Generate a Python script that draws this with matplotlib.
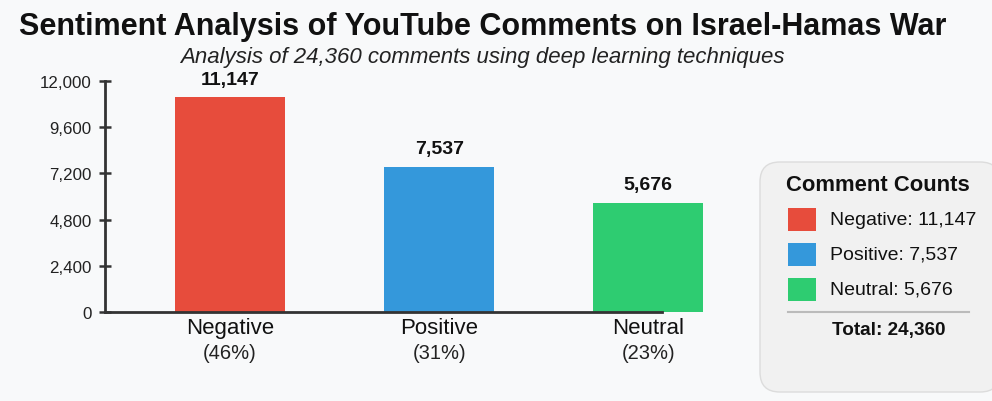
import matplotlib.pyplot as plt
import matplotlib.patches as patches

# --- data ---
categories = ["Negative", "Positive", "Neutral"]
counts = [11147, 7537, 5676]
percents = ["46%", "31%", "23%"]
colors = ["#e74c3c", "#3498db", "#2ecc71"]
yticks = [0, 2400, 4800, 7200, 9600, 12000]
total = 24360

plt.rcParams["font.family"] = ["Liberation Sans", "DejaVu Sans"]

fig = plt.figure(figsize=(9.92, 4.02), dpi=100)
fig.patch.set_facecolor("#f8f9fa")

W, H = 992, 402
ax = fig.add_axes([105 / W, 89 / H, (711 - 105) / W, (313 - 82) / H])
ax.set_facecolor("none")

xs = list(range(len(categories)))
ax.bar(xs, counts, width=0.526, color=colors, zorder=1)

for x, c in zip(xs, counts):
    ax.annotate(f"{c:,}", (x, c), xytext=(0, 13), textcoords="offset points",
                ha="center", va="center", fontsize=14, fontweight="bold", color="#111")

ax.set_xlim(-0.598, 2.3)
ax.set_ylim(0, 12000)
ax.set_yticks(yticks)
ax.set_yticklabels([f"{t:,}" for t in yticks], fontsize=12.2, color="#222")
ax.tick_params(axis="y", direction="inout", length=9, width=1.8, color="#333", pad=5)
ax.set_xticks([])
for x, cat, p in zip(xs, categories, percents):
    ax.annotate(cat, (x, 0), xytext=(0, -11.5), textcoords="offset points",
                ha="center", va="center", fontsize=16, color="#111")
    ax.annotate(f"({p})", (x, 0), xytext=(0, -29.5), textcoords="offset points",
                ha="center", va="center", fontsize=14.5, color="#222")

for s in ["top", "right"]:
    ax.spines[s].set_visible(False)
ax.spines["left"].set_color("#333")
ax.spines["left"].set_linewidth(2)
ax.spines["bottom"].set_color("#333")
ax.spines["bottom"].set_linewidth(2)
ax.spines["bottom"].set_bounds(-0.598, 2.067)

# --- titles ---
fig.text(483 / W, 1 - 27 / H, "Sentiment Analysis of YouTube Comments on Israel-Hamas War",
         ha="center", va="center", fontsize=22, fontweight="bold", color="#111")
fig.text(482 / W, 1 - 58 / H, "Analysis of 24,360 comments using deep learning techniques",
         ha="center", va="center", fontsize=16, style="italic", color="#222")

# --- legend box ---
box = patches.FancyBboxPatch((760 / W, 1 - 393 / H), 240 / W, 230 / H,
                             boxstyle="round,pad=0,rounding_size=0.02",
                             transform=fig.transFigure, facecolor="#f1f1f1",
                             edgecolor="#dcdcdc", linewidth=1, mutation_aspect=W / H)
fig.patches.append(box)
fig.text(878 / W, 1 - 186 / H, "Comment Counts", ha="center", va="center",
         fontsize=15.8, fontweight="bold", color="#111")
for i, (cat, c, col) in enumerate(zip(categories, counts, colors)):
    top = 209 + i * 35
    sw = patches.Rectangle((788 / W, 1 - (top + 23) / H), 28 / W, 23 / H,
                           transform=fig.transFigure, facecolor=col, edgecolor="none")
    fig.patches.append(sw)
    fig.text(830 / W, 1 - (top + 11.5) / H, f"{cat}: {c:,}", ha="left", va="center",
             fontsize=14, color="#111")
fig.lines.append(plt.Line2D([788 / W, 969 / W], [1 - 313 / H, 1 - 313 / H],
                            transform=fig.transFigure, color="#bbbbbb", linewidth=1.5))
fig.text(889 / W, 1 - 330 / H, f"Total: {total:,}", ha="center", va="center",
         fontsize=13.6, fontweight="bold", color="#111")

fig.savefig("out.png", dpi=100, facecolor=fig.get_facecolor())
